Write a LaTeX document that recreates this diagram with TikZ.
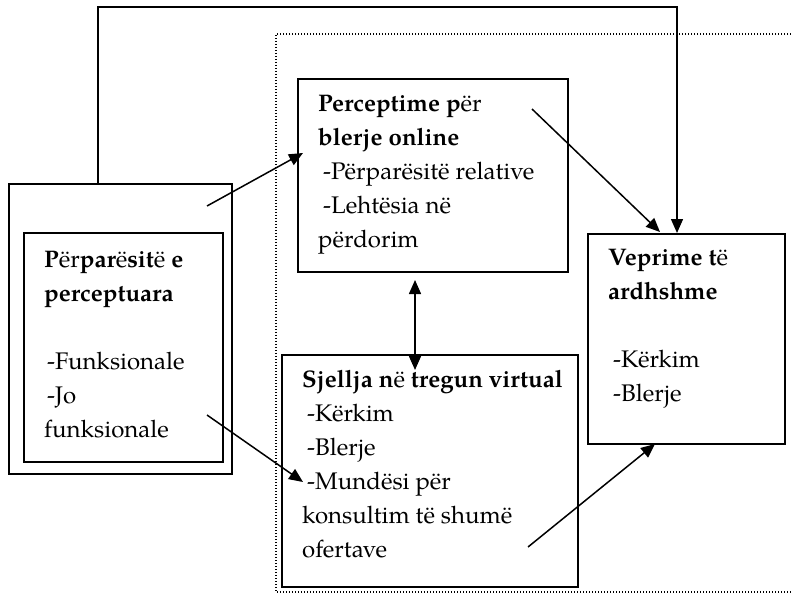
\documentclass[tikz,border=0pt]{standalone}
\usepackage{fontspec}
\setmainfont{texgyrepagella}[Extension=.otf, UprightFont=*-regular, BoldFont=*-bold, ItalicFont=*-italic, BoldItalicFont=*-bolditalic]
\usetikzlibrary{arrows.meta}
\begin{document}
\begin{tikzpicture}[x=1pt,y=-1pt,
  box/.style={draw, line width=1.7pt, rectangle, inner sep=0pt, anchor=north west},
  txt/.style={anchor=base west, inner sep=0pt, font=\fontsize{24}{34}\selectfont},
  arr/.style={line width=1.5pt, -{Triangle[length=14pt,width=12pt]}},
  darr/.style={line width=1.5pt, {Triangle[length=14pt,width=12pt]}-{Triangle[length=14pt,width=12pt]}},
  dotline/.style={line width=1.5pt, dash pattern=on 1.3pt off 1.7pt}]
\useasboundingbox (0,0) rectangle (791,594);
% dotted frame (right side runs off the picture)
\draw[dotline] (791,34) -- (276,34) -- (276,592) -- (791,592);
% boxes
\node[box, minimum width=223pt, minimum height=290pt] (lo) at (8,183) {};
\node[box, minimum width=199pt, minimum height=229pt] (li) at (23,232) {};
\node[box, minimum width=270pt, minimum height=193pt] (tb) at (297,78) {};
\node[box, minimum width=197pt, minimum height=210pt] (rb) at (587,233) {};
\node[box, minimum width=296pt, minimum height=232pt] (bb) at (281,354) {};
% texts
\node[txt] (lit) at (44,267) {\begin{tabular}[t]{@{}l@{}}
\textbf{P}ër\textbf{par}ë\textbf{sit}ë\textbf{ e}\\
\textbf{perceptuara}\\
\\
\hspace{3pt}-Funksionale\\
\hspace{3pt}-Jo\\
funksionale
\end{tabular}};
\node[txt] (tbt) at (318,111) {\begin{tabular}[t]{@{}l@{}}
\textbf{Perceptime p}ër\\
\textbf{blerje online}\\
\hspace{5pt}-Përparësitë relative\\
\hspace{5pt}-Lehtësia në\\
përdorim
\end{tabular}};
\node[txt] (rbt) at (608,265) {\begin{tabular}[t]{@{}l@{}}
\textbf{Veprime t}ë\\
\textbf{ardhshme}\\
\\
\hspace{5pt}-Kërkim\\
\hspace{5pt}-Blerje
\end{tabular}};
\node[txt] (bbt) at (302,387) {\begin{tabular}[t]{@{}l@{}}
\textbf{Sjellja n}ë\textbf{ tregun virtual}\\
\hspace{5pt}-Kërkim\\
\hspace{5pt}-Blerje\\
\hspace{5pt}-Mundësi për\\
konsultim të shumë\\
ofertave
\end{tabular}};
% connector coordinates
\coordinate (t1) at (98,7);
\coordinate (t2) at (677,7);
\coordinate (a1s) at (207,206);
\coordinate (a1e) at (303,153);
\coordinate (a2s) at (532,109);
\coordinate (a2e) at (660,232);
\coordinate (a5s) at (207,415);
\coordinate (a5e) at (303,482);
\coordinate (a6s) at (528,547);
\coordinate (a6e) at (655,444);
\coordinate (d1) at (415,280);
\coordinate (d2) at (415,370);
% connectors
\draw[arr] (lo.north -| t1) -- (t1) -- (t2) -- (rb.north -| t2);
\draw[arr] (a1s) -- (a1e);
\draw[arr] (a2s) -- (a2e);
\draw[arr] (a5s) -- (a5e);
\draw[arr] (a6s) -- (a6e);
\draw[darr] (d1) -- (d2);
\end{tikzpicture}
\end{document}
